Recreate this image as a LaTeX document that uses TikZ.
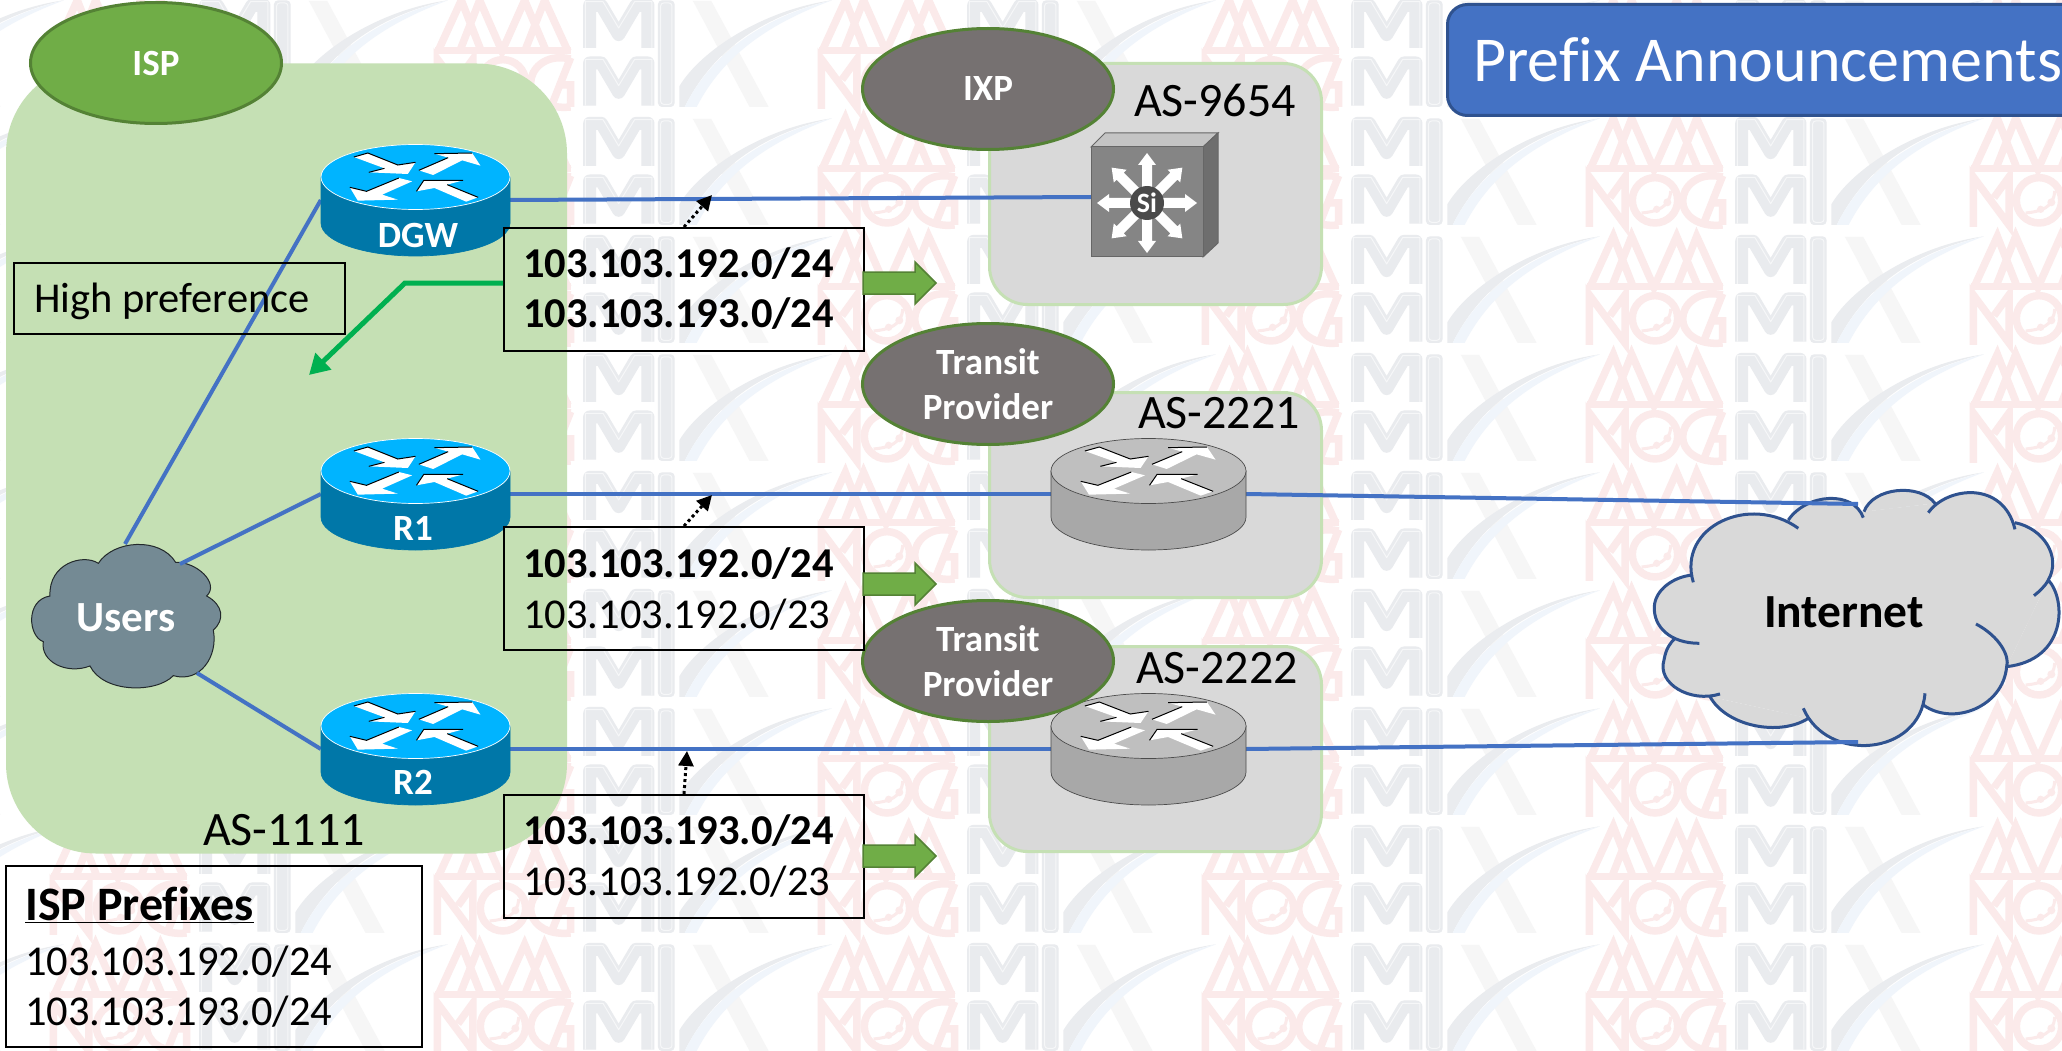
\documentclass[tikz,border=0pt]{standalone}
\usepackage{fontspec}
\setmainfont{Carlito}[Ligatures=NoCommon]
\usetikzlibrary{shapes.geometric,arrows.meta}
\definecolor{asgreen}{HTML}{C5E0B4}
\definecolor{asgray}{HTML}{D9D9D9}
\definecolor{okgreen}{HTML}{70AD47}
\definecolor{okdark}{HTML}{548235}
\definecolor{linkblue}{HTML}{4472C4}
\definecolor{darkblue}{HTML}{2F528F}
\definecolor{ellgray}{HTML}{767171}
\definecolor{cloudgray}{HTML}{748A94}
\definecolor{wmpink}{HTML}{FBEAEA}
\definecolor{wmgray}{HTML}{E9EBEE}
\definecolor{wmpale}{HTML}{F6F7F8}
\definecolor{wmx}{HTML}{F6F6F6}
\definecolor{wmarc}{HTML}{EAECEF}
\definecolor{wmblue}{HTML}{F0F5FB}
\definecolor{rtop}{HTML}{00B4FF}
\definecolor{rbody}{HTML}{0077A8}
\definecolor{gtop}{HTML}{BFBFBF}
\definecolor{gbody}{HTML}{A8A8A8}
\definecolor{swtop}{HTML}{C4C4C4}
\definecolor{swside}{HTML}{6E6E6E}
\definecolor{swfront}{HTML}{858585}
\definecolor{swdisc}{HTML}{4A4A4A}
\definecolor{prefgreen}{HTML}{00B050}
\newcommand\fsz[1]{\fontsize{#1}{#1}\selectfont}
\tikzset{
  asbox/.style={draw=asgreen,line width=3pt,fill=asgray,rounded corners=38pt,inner sep=0pt,anchor=north west},
  ellbox/.style={ellipse,draw=okdark,line width=3pt,inner sep=0pt,minimum width=251pt,minimum height=121pt,text=white,align=center,font=\fsz{37}\bfseries},
  pbox/.style={draw=black,line width=2pt,inner sep=0pt,anchor=north west},
  txt/.style={inner sep=0pt,anchor=base west,text=black},
  astxt/.style={inner sep=0pt,anchor=base,font=\fsz{48}},
  rnode/.style={inner sep=0pt,minimum width=189pt,minimum height=110pt},
  rlabel/.style={inner sep=0pt,anchor=center,text=white,font=\fsz{37}\bfseries},
  link/.style={draw=linkblue,line width=4pt},
  hint/.style={black,line width=3pt,dash pattern=on 3pt off 3pt,-{Triangle[length=15pt,width=15pt]}},
  wmline/.style={draw=wmpink,line width=7.5pt,line cap=butt,line join=miter},
}
% one tile of the background watermark, in 3x coordinates
\newcommand\wmtile{%
  \draw[wmline] (262,503)--(668,503);
  \draw[wmline] (270,505)--(340,352)--(400,505) (335,505)--(395,352)--(462,505)--(530,352)--(595,505) (530,505)--(590,352)--(660,505);
  \draw[wmline] (268,678)--(268,528)--(375,672)--(375,528)--(330,590);
  \draw[wmline] (465,598) circle[radius=68];
  \draw[wmpink,line width=3pt] (425,636) .. controls (470,632) and (510,620) .. (512,570);
  \fill[wmpink] (470,625) circle[radius=11] (502,604) circle[radius=12];
  \draw[wmline] (668,528) .. controls (590,510) and (548,560) .. (548,600) .. controls (548,640) and (590,680) .. (668,672);
  \draw[wmline] (668,524)--(612,665) (668,672)--(668,606)--(642,606);
  \foreach \yy in {0,173}{
    \draw[wmgray,line width=13pt,line join=round] (725,{495+\yy})--(725,{367+\yy})--(760,{367+\yy})--(812,{455+\yy})--(864,{367+\yy})--(900,{367+\yy})--(900,{495+\yy});
    \draw[wmpale,line width=1pt,line join=round] (712,{495+\yy})--(712,{356+\yy})--(765,{356+\yy})--(812,{435+\yy})--(860,{356+\yy})--(912,{356+\yy})--(912,{495+\yy});
  }
  \fill[wmgray,rounded corners=4pt] (930,352) rectangle (980,672);
  \draw[wmpale,line width=1pt,rounded corners=3pt] (938,360) rectangle (972,664);
  \fill[wmx] (1035,354)--(1090,354)--(1262,672)--(1205,672)--cycle;
  \fill[wmarc] (994,610) .. controls (1060,500) and (1250,380) .. (1452,352) .. controls (1260,395) and (1100,490) .. (1010,672) -- (994,672) -- cycle;
  \fill[wmblue] (1010,672) .. controls (1090,510) and (1250,400) .. (1452,352) .. controls (1270,420) and (1130,510) .. (1046,672) -- cycle;
}
% router: centre x, centre y of the top disc, half width, top colour, body colour, body edge, disc edge
\newcommand\routerdraw[7]{%
  \path[fill=#5,draw=#6,line width=.7pt] ({#1-#3},#2)--({#1-#3},{#2+46}) arc[start angle=180,end angle=0,x radius=#3,y radius=33]--({#1+#3},#2)--cycle;
  \path[fill=#4,draw=#7,line width=.7pt] (#1,#2) ellipse[x radius=#3,y radius=32.5];
  \begin{scope}[x={#3/94.5*.3333pt},y=-.3333pt,shift={({#1*1pt-#3/94.5*135pt},{-#2*1pt+57.33pt})}]
    \fill[white] (220,112)--(262,100)--(352,136)--(405,128)--(382,163)--(265,158)--(312,146)--cycle;
    \fill[white] (415,152)--(503,114)--(462,102)--(575,100)--(600,138)--(545,122)--(458,166)--cycle;
    \fill[white] (208,203)--(258,215)--(355,175)--(395,185)--(305,225)--(352,240)--(232,243)--cycle;
    \fill[white] (408,215)--(430,182)--(548,182)--(500,195)--(593,233)--(557,246)--(462,205)--cycle;
    \draw[black,line width=1pt] (220,112)--(262,100)--(352,136)--(405,128) (415,152)--(503,114) (462,102)--(575,100) (208,203)--(258,215)--(355,175) (408,215)--(430,182)--(548,182) (500,195)--(593,233) (265,158)--(312,146);
  \end{scope}
}
\newcommand\blockarrow[1]{%
  \path[fill=okgreen,draw=okdark,line width=1.5pt] (863,{#1-11})--(915,{#1-11})--(915,{#1-21})--(936,#1)--(915,{#1+21})--(915,{#1+11})--(863,{#1+11})--cycle;
}
\begin{document}
\begin{tikzpicture}[x=1pt,y=-1pt]
\useasboundingbox (0,0) rectangle (2062,1051);
\fill[white] (0,0) rectangle (2062,1051);
% watermark
\begin{scope}
\clip (0,0) rectangle (2062,1051);
\foreach \k in {-2,...,4}{
  \foreach \j in {0,...,9}{
    \pgfmathsetmacro\wx{348+384*\k}
    \pgfmathsetmacro\wy{117-118*\j}
    \begin{scope}[x=.3333pt,y=-.3333pt,shift={(\wx pt,\wy pt)}]
      \wmtile
    \end{scope}
  }
}
\end{scope}
% regions
\node[asbox,draw=none,fill=asgreen,rounded corners=90pt,minimum width=561pt,minimum height=790pt] (as1111) at (4.5,62) {};
\node[asbox,minimum width=332pt,minimum height=241pt] (as9654) at (988,62) {};
\node[asbox,minimum width=332pt,minimum height=205pt] (as2221) at (988,391) {};
\node[asbox,minimum width=332pt,minimum height=205pt] (as2222) at (988,645) {};
% anchors of devices
\node[rnode] (dgw) at (415.5,200) {};
\node[rnode] (r1) at (415.5,494) {};
\node[rnode] (r2) at (415.5,749) {};
\node[rnode,minimum width=195pt] (g1) at (1148.5,494) {};
\node[rnode,minimum width=195pt] (g2) at (1148.5,749) {};
\node[inner sep=0pt,minimum width=112pt,minimum height=110pt] (sw) at (1147,202) {};
\coordinate (inT) at (1858,504);
\coordinate (inB) at (1858,742);
\coordinate (uT) at (125,544);
\coordinate (uR) at (180,564);
\coordinate (uB) at (197,673);
% Users cloud
\begin{scope}[x=.3333pt,y=-.3333pt,shift={(0pt,-530pt)}]
\path[fill=cloudgray,draw=black!70!cloudgray,line width=1pt]
 (295,100) .. controls (340,30) and (480,20) .. (527,97)
 .. controls (590,95) and (660,160) .. (620,198)
 .. controls (670,225) and (675,270) .. (640,300)
 .. controls (655,380) and (600,460) .. (520,437)
 .. controls (470,490) and (310,490) .. (270,408)
 .. controls (200,435) and (120,395) .. (130,335)
 .. controls (85,320) and (75,210) .. (150,198)
 .. controls (145,100) and (250,70) .. (295,100) -- cycle;
\end{scope}
% Internet cloud
\begin{scope}[x=.3333pt,y=-.3333pt,shift={(1640pt,-470pt)}]
\fill[asgray] (158,315)--(445,150)--(672,125)--(885,100)--(1125,158)--(1225,330)--(1100,590)--(850,705)--(505,745)--(210,680)--(105,505)--cycle;
\path[fill=asgray,draw=darkblue,line width=3pt]
 (160,337) .. controls (110,170) and (330,70) .. (475,175)
 (445,150) .. controls (500,70) and (640,60) .. (670,143)
 (672,125) .. controls (700,50) and (840,40) .. (885,100)
 (865,128) .. controls (920,50) and (1090,30) .. (1125,178)
 (1125,158) .. controls (1210,175) and (1265,260) .. (1225,330) .. controls (1215,350) and (1195,367) .. (1182,377)
 (1225,330) .. controls (1280,390) and (1280,570) .. (1100,590)
 (1008,462) .. controls (1080,500) and (1110,560) .. (1100,590) .. controls (1090,710) and (940,770) .. (850,705)
 (855,670) .. controls (840,860) and (560,880) .. (490,715)
 (505,745) .. controls (420,800) and (260,770) .. (210,680)
 (240,672) .. controls (150,700) and (50,640) .. (72,570) .. controls (78,535) and (90,520) .. (105,505)
 (178,520) .. controls (90,520) and (40,470) .. (43,410) .. controls (45,360) and (100,320) .. (158,315);
\end{scope}
% links
\draw[link] (uT)--(dgw.west);
\draw[link] (uR)--(r1.west);
\draw[link] (uB)--(r2.west);
\draw[link] (dgw.east)--([yshift=5pt]sw.west);
\draw[link] (r1.east)--(g1.west);
\draw[link] (r2.east)--(g2.west);
\draw[link] (g1.east)--(inT);
\draw[link] (g2.east)--(inB);
% routers
\routerdraw{415.5}{177}{94.5}{rtop}{rbody}{rbody}{white}
\routerdraw{415.5}{471}{94.5}{rtop}{rbody}{rbody}{white}
\routerdraw{415.5}{726}{94.5}{rtop}{rbody}{rbody}{white}
\routerdraw{1148.5}{471}{97.5}{gtop}{gbody}{black!70}{black!70}
\routerdraw{1148.5}{726}{97.5}{gtop}{gbody}{black!70}{black!70}
\node[rlabel] (dgwt) at (418,235) {DGW};
\node[rlabel] (r1t) at (413,528) {R1};
\node[rlabel] (r2t) at (413,782) {R2};
% switch
\path[fill=swtop,draw=gray!80!black,line width=1pt] (1091,147)--(1105,133)--(1218,133)--(1203,147)--cycle;
\path[fill=swside,draw=gray!80!black,line width=1pt] (1203,147)--(1218,133)--(1218,243)--(1203,257)--cycle;
\path[fill=swfront,draw=gray!80!black,line width=1pt] (1091,147) rectangle (1203,257);
\foreach \a in {0,45,...,315}{
  \fill[white,shift={(1147pt,-203pt)},rotate=\a] (12,-5)--(38,-5)--(38,-9)--(50,0)--(38,9)--(38,5)--(12,5)--cycle;
}
\fill[swdisc] (1147,203) circle[radius=17];
\node[inner sep=0pt,text=white,font=\fsz{28}\bfseries] (sit) at (1147,203) {Si};
% ellipses
\node[ellbox,fill=okgreen] (isp) at (156,63) {ISP};
\node[ellbox,fill=ellgray] (ixp) at (988,89) {IXP};
\node[ellbox,fill=ellgray] (tp1) at (988,384) {Transit\\[8pt]Provider};
\node[ellbox,fill=ellgray] (tp2) at (988,661) {Transit\\[8pt]Provider};
\node[inner sep=0pt,text=white,font=\fsz{43}\bfseries] (users) at (126,618) {Users};
\node[inner sep=0pt,anchor=base,font=\fsz{47.5}\bfseries] (inet) at (1844,627) {Internet};
% AS labels
\node[astxt] (t1111) at (284,845) {AS-1111};
\node[astxt] (t9654) at (1215,117) {AS-9654};
\node[astxt] (t2221) at (1219,428) {AS-2221};
\node[astxt] (t2222) at (1217,683) {AS-2222};
% prefix boxes
\node[pbox,minimum width=360pt,minimum height=123pt] (b1) at (503,227) {};
\node[pbox,minimum width=360pt,minimum height=123pt] (b2) at (503,526) {};
\node[pbox,minimum width=360pt,minimum height=123pt] (b3) at (503,794) {};
\node[txt,font=\fsz{42.5}\bfseries] at (523,277) {103.103.192.0/24};
\node[txt,font=\fsz{42.5}\bfseries] at (523,327) {103.103.193.0/24};
\node[txt,font=\fsz{42.5}\bfseries] at (523,577) {103.103.192.0/24};
\node[txt,font=\fsz{42.5}] at (523,628) {103.103.192.0/23};
\node[txt,font=\fsz{42.5}\bfseries] at (523,844) {103.103.193.0/24};
\node[txt,font=\fsz{42.5}] at (523,895) {103.103.192.0/23};
\coordinate (h1) at (712,195);
\coordinate (h2) at (712,495);
\coordinate (h3) at (687,751);
\draw[hint] (b1.north)--(h1);
\draw[hint] (b2.north)--(h2);
\draw[hint] (b3.north)--(h3);
\blockarrow{283}
\blockarrow{584}
\blockarrow{856}
% high preference
\node[pbox,minimum width=331pt,minimum height=71pt] (hp) at (13,262) {};
\node[txt,font=\fsz{42.5}] at (34,312) {High preference};
\coordinate (gbend) at (405,283);
\coordinate (gend) at (309,375);
\draw[draw=prefgreen,line width=5pt,-{Triangle[length=20pt,width=22pt]}] (b1.west |- gbend)--(gbend)--(gend);
% ISP prefixes
\node[pbox,minimum width=416pt,minimum height=181pt] (ip) at (5,865) {};
\node[txt,font=\fsz{48}\bfseries] at (25,920) {\underline{ISP Prefixes}};
\node[txt,font=\fsz{42.5}] at (25,975) {103.103.192.0/24};
\node[txt,font=\fsz{42.5}] at (25,1025) {103.103.193.0/24};
% title
\node[draw=darkblue,line width=3pt,fill=linkblue,rounded corners=20pt,inner sep=0pt,anchor=north west,minimum width=640pt,minimum height=111pt] (title) at (1446,3) {};
\node[txt,text=white,font=\fsz{64}] at (1473,82) {Prefix Announcements};
\end{tikzpicture}
\end{document}
